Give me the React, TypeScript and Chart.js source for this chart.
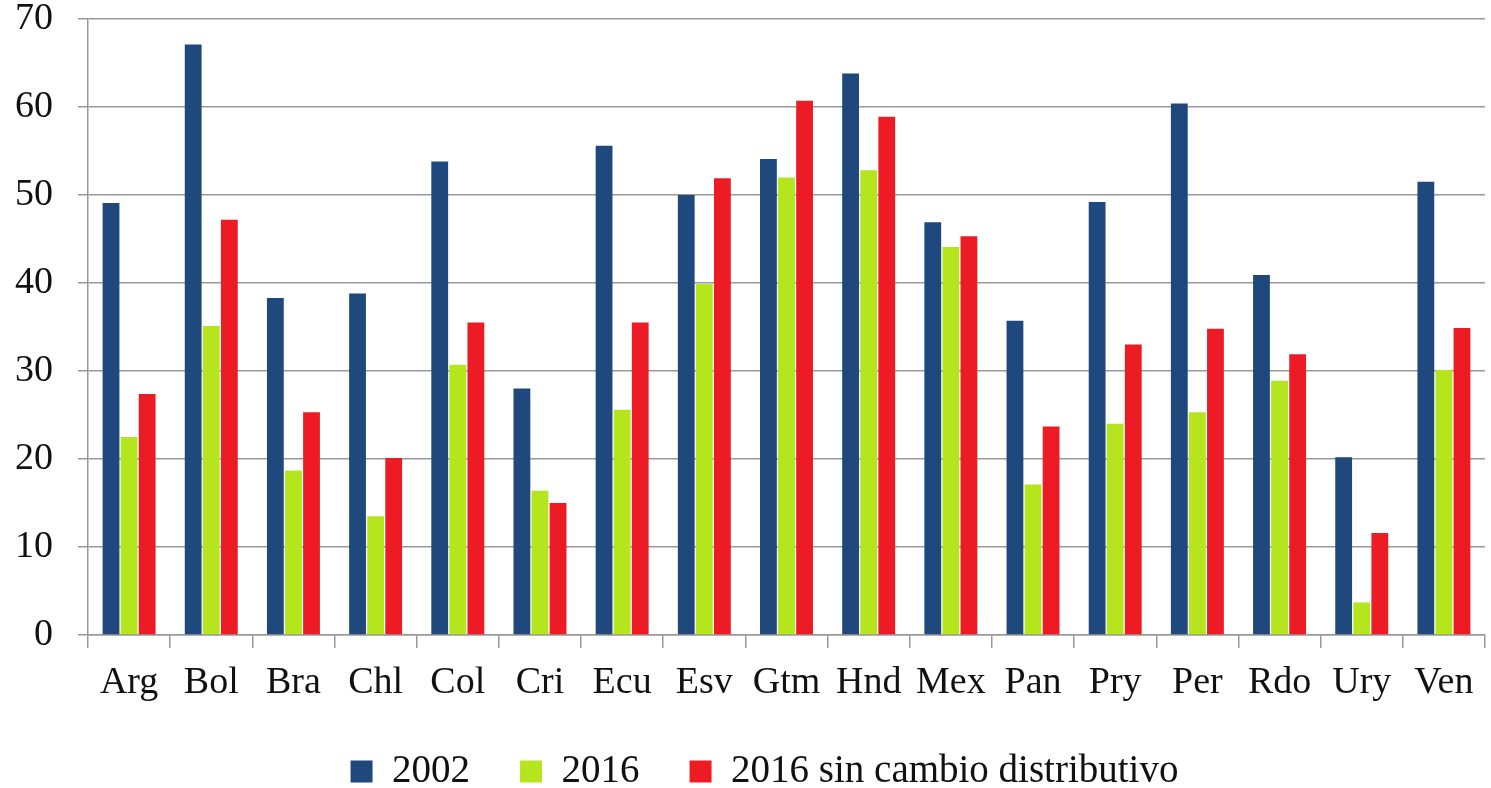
import React, { useEffect, useRef } from "react";
import { Chart, registerables } from "chart.js";

Chart.register(...registerables);

const categories = ["Arg", "Bol", "Bra", "Chl", "Col", "Cri", "Ecu", "Esv", "Gtm", "Hnd", "Mex", "Pan", "Pry", "Per", "Rdo", "Ury", "Ven"];
const seriesLabels = ["2002", "2016", "2016 sin cambio distributivo"];
const values2002 = [49.1, 67.1, 38.3, 38.8, 53.8, 28.0, 55.6, 50.0, 54.1, 63.8, 46.9, 35.7, 49.2, 60.4, 40.9, 20.2, 51.5];
const values2016 = [22.5, 35.1, 18.7, 13.5, 30.7, 16.4, 25.6, 39.9, 52.0, 52.8, 44.1, 17.1, 24.0, 25.3, 28.9, 3.7, 30.1];
const values2016sc = [27.4, 47.2, 25.3, 20.1, 35.5, 15.0, 35.5, 51.9, 60.7, 58.9, 45.3, 23.7, 33.0, 34.8, 31.9, 11.6, 34.9];
const yTicks = [0, 10, 20, 30, 40, 50, 60, 70];

const colors = ["#1F497D", "#B5E61D", "#ED1C24"];
const FONT = "'Liberation Serif', 'Times New Roman', serif";
const GRID = "#999999";

const legendFitPlugin = {
  id: "legendFit",
  beforeLayout(chart: any) {
    const lg = chart.legend;
    if (lg && !lg._patched) {
      const orig = lg.fit;
      lg.fit = function () {
        orig.call(this);
        this.height = 86;
      };
      lg._patched = true;
    }
  },
  afterLayout(chart: any) {
    const lg = chart.legend;
    if (lg) {
      lg.left += 22;
      lg.right += 22;
    }
  },
};

export default function App() {
  const ref = useRef<HTMLCanvasElement | null>(null);

  useEffect(() => {
    if (!ref.current) return;
    const chart = new Chart(ref.current, {
      type: "bar",
      data: {
        labels: categories,
        datasets: [values2002, values2016, values2016sc].map((d, i) => ({
          label: seriesLabels[i],
          data: d,
          backgroundColor: colors[i],
          borderWidth: 0,
          barPercentage: 0.93,
          categoryPercentage: 0.66,
        })),
      },
      options: {
        animation: false,
        responsive: true,
        maintainAspectRatio: false,
        layout: { padding: { top: 19, right: 6, left: 0, bottom: 0 } },
        plugins: {
          tooltip: { enabled: false },
          legend: {
            position: "bottom",
            labels: {
              font: { family: FONT, size: 39 },
              color: "#111",
              boxWidth: 22,
              boxHeight: 22,
              padding: 50,
            },
          },
        },
        scales: {
          x: {
            grid: {
              offset: true,
              drawOnChartArea: false,
              drawTicks: true,
              tickLength: 13,
              color: GRID,
              lineWidth: 1.5,
            },
            border: { display: true, color: GRID, width: 1.5 },
            ticks: {
              font: { family: FONT, size: 38, lineHeight: 1.2 },
              color: "#111",
              padding: 12,
              maxRotation: 0,
              autoSkip: false,
            },
            afterFit(scale: any) {
              scale.height = 67;
            },
          },
          y: {
            min: 0,
            max: 70,
            afterBuildTicks(scale: any) {
              scale.ticks = yTicks.map((v) => ({ value: v }));
            },
            grid: {
              color: GRID,
              lineWidth: 1.5,
              drawTicks: true,
              tickLength: 10,
            },
            border: { display: true, color: GRID, width: 1.5 },
            ticks: {
              font: { family: FONT, size: 38, lineHeight: 1.0 },
              color: "#111",
              padding: 25,
            },
            afterFit(scale: any) {
              scale.width = 88;
              scale.paddingTop = 0;
              scale.paddingBottom = 0;
            },
          },
        },
      },
      plugins: [legendFitPlugin],
    });
    return () => chart.destroy();
  }, []);

  return (
    <div style={{ position: "absolute", left: 0, top: 0, width: 1491, height: 788, background: "#fff" }}>
      <canvas ref={ref} />
    </div>
  );
}
